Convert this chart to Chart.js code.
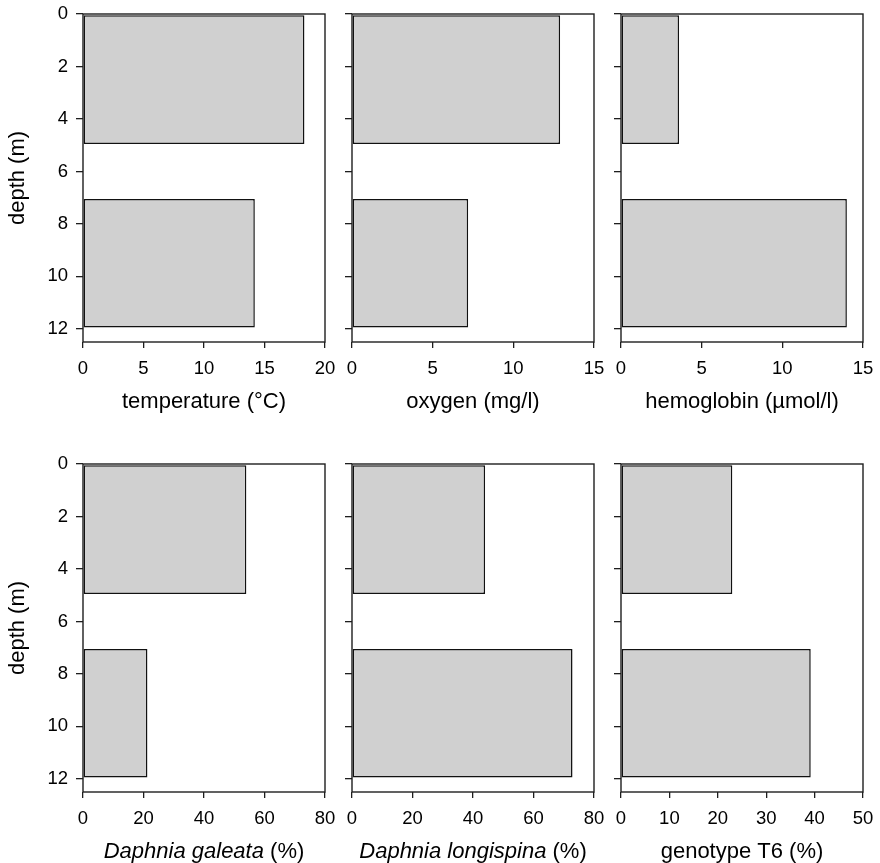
<!DOCTYPE html>
<html>
<head>
<meta charset="utf-8">
<script src="https://cdn.jsdelivr.net/npm/chart.js@4"></script>
<style>
  body { margin: 0; background: #fff; }
  #wrap { position: relative; width: 880px; height: 863px; }
  #wrap canvas { position: absolute; }
</style>
</head>
<body>
<div id="wrap"></div>
<script>
// Depth profile panels: two sampled layers (0-5 m and 7-12 m)

// midpoint of each sampled layer (m)
const layerDepth = [2.5, 9.5];
const depthTicks = [0, 2, 4, 6, 8, 10, 12];

const temperature = [18.3, 14.2];
const oxygen = [12.9, 7.2];
const hemoglobin = [3.6, 14.0];
const daphniaGaleata = [54.0, 21.3];
const daphniaLongispina = [44.0, 72.9];
const genotypeT6 = [23.0, 39.2];

const xMaxes = [20, 15, 15, 80, 80, 50];
const xSteps = [5, 5, 5, 20, 20, 10];
// [text, italic]
const xTitles = [
    [['temperature (°C)', false]],
    [['oxygen (mg/l)', false]],
    [['hemoglobin (µmol/l)', false]],
    [['Daphnia galeata', true], [' (%)', false]],
    [['Daphnia longispina', true], [' (%)', false]],
    [['genotype T6 (%)', false]]
];
const yTitle = 'depth (m)';

const series = [temperature, oxygen, hemoglobin, daphniaGaleata, daphniaLongispina, genotypeT6];

const FONT = "'Liberation Sans', Arial, Helvetica, sans-serif";
const INK = '#1e1e1e';

// canvas geometry per column / row
const colLeft = [0, 338, 607];
const colWidth = [338, 269, 273];
const yAxisWidth = [83, 14, 14];
const padRight = [13, 13, 17];
const rowTop = [0, 430];
const rowHeight = [430, 433];
const padTop = [14, 34];
const xAxisHeight = [88, 71];

const framePlugin = {
    id: 'frame',
    afterDatasetsDraw(chart) {
        const a = chart.chartArea;
        const ctx = chart.ctx;
        ctx.save();
        ctx.strokeStyle = INK;
        ctx.lineWidth = 1.4;
        ctx.strokeRect(a.left, a.top, a.right - a.left, a.bottom - a.top);
        ctx.restore();
    }
};

const xTitlePlugin = {
    id: 'xTitle',
    afterDraw(chart, args, opts) {
        const parts = xTitles[opts.index];
        const a = chart.chartArea;
        const ctx = chart.ctx;
        const fontFor = it => (it ? 'italic ' : '') + opts.size + 'px ' + FONT;
        ctx.save();
        ctx.fillStyle = '#000';
        ctx.textBaseline = 'middle';
        ctx.textAlign = 'left';
        let total = 0;
        parts.forEach(p => { ctx.font = fontFor(p[1]); total += ctx.measureText(p[0]).width; });
        let x = (a.left + a.right) / 2 - total / 2;
        const y = a.bottom + opts.offset;
        parts.forEach(p => {
            ctx.font = fontFor(p[1]);
            ctx.fillText(p[0], x, y);
            x += ctx.measureText(p[0]).width;
        });
        ctx.restore();
    }
};

const wrap = document.getElementById('wrap');

series.forEach((values, i) => {
    const row = Math.floor(i / 3);
    const col = i % 3;

    const canvas = document.createElement('canvas');
    canvas.width = colWidth[col];
    canvas.height = rowHeight[row];
    canvas.style.left = colLeft[col] + 'px';
    canvas.style.top = rowTop[row] + 'px';
    wrap.appendChild(canvas);

    const tickFont = { family: FONT, size: 18.5 };

    new Chart(canvas.getContext('2d'), {
        type: 'bar',
        data: {
            datasets: [{
                data: values.map((v, k) => ({ x: v, y: layerDepth[k] })),
                backgroundColor: '#d0d0d0',
                borderColor: '#111',
                borderWidth: 1.5,
                borderSkipped: false,
                categoryPercentage: 1,
                barPercentage: 2.45
            }]
        },
        options: {
            indexAxis: 'y',
            responsive: false,
            animation: false,
            layout: {
                padding: { top: padTop[row], right: padRight[col], left: 0, bottom: 0 }
            },
            plugins: {
                legend: { display: false },
                tooltip: { enabled: false },
                xTitle: { index: i, size: 22, offset: 60 }
            },
            scales: {
                y: {
                    type: 'linear',
                    reverse: true,
                    min: 0,
                    max: 12.5,
                    offset: false,
                    afterBuildTicks: s => { s.ticks = depthTicks.map(v => ({ value: v })); },
                    afterFit: s => {
                        s.width = yAxisWidth[col];
                        s.paddingTop = 0;
                        s.paddingBottom = 0;
                    },
                    grid: {
                        offset: false,
                        drawOnChartArea: false,
                        drawTicks: true,
                        tickLength: 7,
                        color: INK,
                        lineWidth: 1.3
                    },
                    border: { display: false },
                    ticks: {
                        display: col === 0,
                        padding: 8,
                        color: '#000',
                        font: tickFont
                    },
                    title: {
                        display: col === 0,
                        text: yTitle,
                        color: '#000',
                        font: { family: FONT, size: 22 },
                        padding: { top: 5, bottom: 0 }
                    }
                },
                x: {
                    type: 'linear',
                    position: 'bottom',
                    min: 0,
                    max: xMaxes[i],
                    afterFit: s => {
                        s.height = xAxisHeight[row];
                        s.paddingLeft = 0;
                        s.paddingRight = 0;
                    },
                    grid: {
                        offset: false,
                        drawOnChartArea: false,
                        drawTicks: true,
                        tickLength: 6,
                        color: INK,
                        lineWidth: 1.3
                    },
                    border: { display: false },
                    ticks: {
                        stepSize: xSteps[i],
                        autoSkip: false,
                        maxRotation: 0,
                        padding: 10,
                        color: '#000',
                        font: tickFont
                    }
                }
            }
        },
        plugins: [framePlugin, xTitlePlugin]
    });
});
</script>
</body>
</html>
